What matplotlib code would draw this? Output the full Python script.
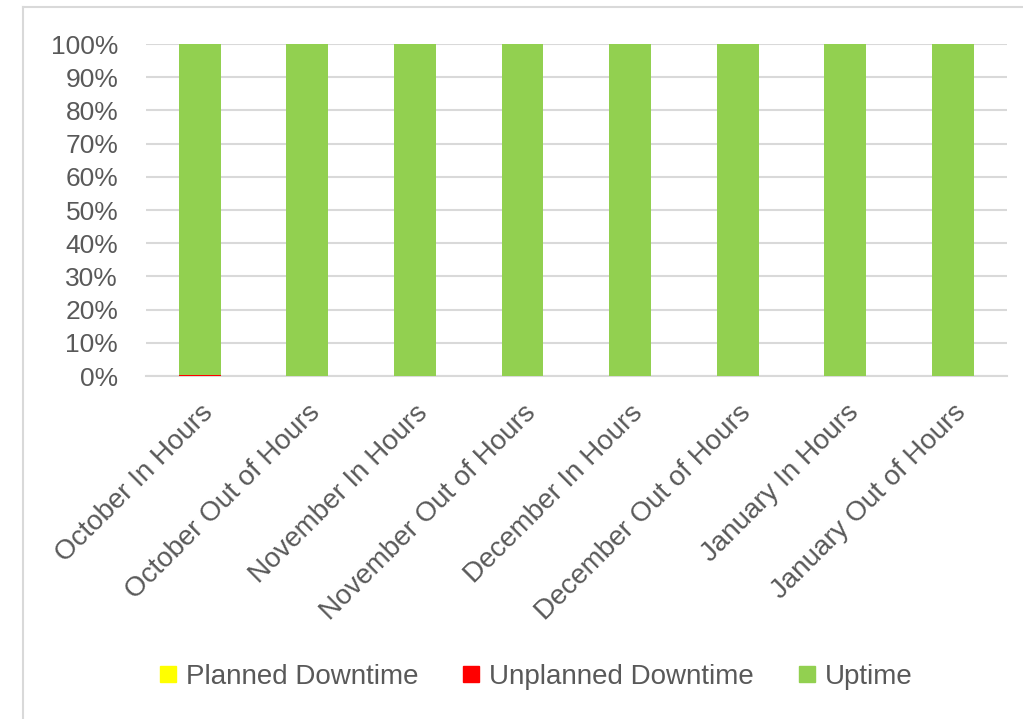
import matplotlib.pyplot as plt
from matplotlib.lines import Line2D
from matplotlib.ticker import PercentFormatter, MultipleLocator
import numpy as np

categories = [
    "October In Hours", "October Out of Hours",
    "November In Hours", "November Out of Hours",
    "December In Hours", "December Out of Hours",
    "January In Hours", "January Out of Hours",
]
planned = [0.0, 0.0, 0.0, 0.0, 0.0, 0.0, 0.0, 0.0]
unplanned = [0.4, 0.0, 0.0, 0.0, 0.0, 0.0, 0.0, 0.0]
uptime = [100 - p - u for p, u in zip(planned, unplanned)]

text_color = "#595959"
grid_color = "#d9d9d9"
colors = {"Planned Downtime": "#ffff00", "Unplanned Downtime": "#ff0000", "Uptime": "#92d050"}

plt.rcParams["font.family"] = ["Liberation Sans", "DejaVu Sans"]

fig = plt.figure(figsize=(10.23, 7.19), dpi=100)
ax = fig.add_axes([0.1427, 0.477, 0.8413, 0.4618])

x = np.arange(len(categories))
bottom = np.zeros(len(categories))
for name, vals in [("Planned Downtime", planned), ("Unplanned Downtime", unplanned), ("Uptime", uptime)]:
    ax.bar(x, vals, width=0.39, bottom=bottom, color=colors[name], label=name, zorder=3)
    bottom += np.array(vals)

ax.set_xlim(-0.5, len(categories) - 0.5)
ax.set_ylim(0, 100)
ax.yaxis.set_major_locator(MultipleLocator(10))
ax.yaxis.set_major_formatter(PercentFormatter(100, decimals=0))
ax.grid(axis="y", color=grid_color, linewidth=1.5, zorder=0)
for side in ["top", "right", "left"]:
    ax.spines[side].set_visible(False)
ax.spines["bottom"].set_color(grid_color)
ax.spines["bottom"].set_linewidth(1.5)
ax.spines["bottom"].set_zorder(2)

ax.set_xticks(x)
ax.set_xticklabels(categories, rotation=45, ha="right", rotation_mode="anchor")
ax.tick_params(axis="x", length=0, labelsize=20, labelcolor=text_color, pad=17)
ax.tick_params(axis="y", length=0, labelsize=19, labelcolor=text_color, pad=20)

handles = [Line2D([], [], marker="s", linestyle="none", markersize=12,
                  markerfacecolor=c, markeredgecolor=c) for c in colors.values()]
fig.legend(handles, list(colors.keys()), loc="center", bbox_to_anchor=(0.524, 0.059),
           ncol=3, frameon=False, fontsize=20, labelcolor=text_color,
           handlelength=0.6, handletextpad=0.35, columnspacing=1.6)

# chart area border
fig.add_artist(Line2D([23 / 1023, 1.0], [1 - 7 / 719, 1 - 7 / 719], color=grid_color, linewidth=1.5))
fig.add_artist(Line2D([23 / 1023, 23 / 1023], [0.0, 1 - 7 / 719], color=grid_color, linewidth=1.5))

fig.savefig("out.png", dpi=100, facecolor="white")
